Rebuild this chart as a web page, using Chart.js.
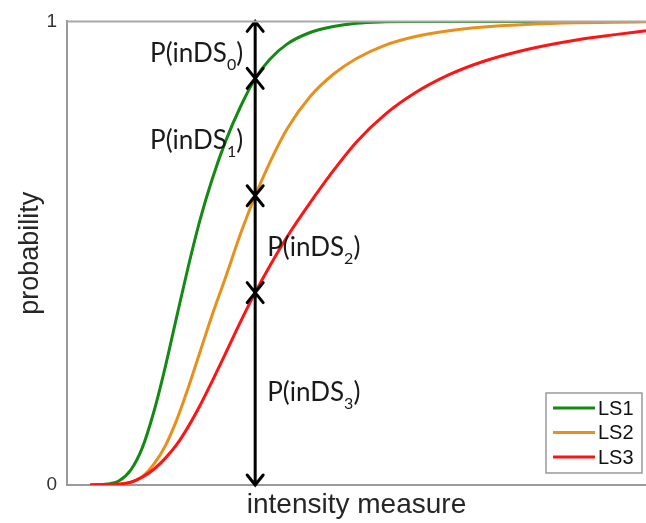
<!DOCTYPE html>
<html>
<head>
<meta charset="utf-8">
<script src="https://cdn.jsdelivr.net/npm/chart.js@4/dist/chart.umd.min.js"></script>
<style>
  html, body { margin: 0; padding: 0; background: #fff; }
  #wrap { width: 646px; height: 523px; }
</style>
</head>
<body>
<div id="wrap"><canvas id="fragilityChart" width="646" height="523"></canvas></div>
<script>
// intensity measure (arbitrary units, 0..100 across the plot)
const intensity = [4, 7, 9, 11, 13, 15, 17, 19, 21, 23, 25, 27.5, 30, 32.5, 35, 38, 42, 46, 50, 55, 60, 66, 72, 80, 88, 95, 100];
const ls1 = [0, 0.002, 0.009, 0.032, 0.080, 0.158, 0.256, 0.366, 0.474, 0.573, 0.657, 0.745, 0.817, 0.877, 0.918, 0.951, 0.976, 0.989, 0.996, 0.999, 1, 1, 1, 1, 1, 1, 1];
const ls2 = [0, 0, 0.001, 0.006, 0.018, 0.045, 0.085, 0.142, 0.212, 0.288, 0.364, 0.452, 0.543, 0.624, 0.695, 0.768, 0.838, 0.886, 0.920, 0.949, 0.967, 0.980, 0.988, 0.994, 0.997, 0.998, 0.999];
const ls3 = [0, 0.001, 0.002, 0.006, 0.017, 0.034, 0.058, 0.088, 0.127, 0.172, 0.222, 0.287, 0.353, 0.415, 0.472, 0.535, 0.609, 0.678, 0.740, 0.800, 0.845, 0.885, 0.914, 0.941, 0.960, 0.972, 0.980];
const seriesNames = ['LS1', 'LS2', 'LS3'];
const seriesColors = ['#138a13', '#e8901c', '#ff1414'];
const yTicks = [0, 1];

// where the damage-state arrow is drawn
const markIM = 32.5;
const stateLabels = ['0', '1', '2', '3'];

const toPts = vals => intensity.map((x, i) => ({ x: x, y: vals[i] }));

const arrowPlugin = {
  id: 'arrows',
  afterDatasetsDraw(chart) {
    const { ctx, scales } = chart;
    const xs = scales.x, ys = scales.y;
    const i = intensity.indexOf(markIM);
    const stops = [1, ls1[i], ls2[i], ls3[i], 0];
    const px = xs.getPixelForValue(markIM);

    ctx.save();
    ctx.strokeStyle = '#000';
    ctx.lineWidth = 3;
    ctx.lineCap = 'round';
    for (let s = 0; s < 4; s++) {
      const y1 = ys.getPixelForValue(stops[s]);
      const y2 = ys.getPixelForValue(stops[s + 1]);
      ctx.beginPath();
      ctx.moveTo(px, y1);
      ctx.lineTo(px, y2);
      // up head
      ctx.moveTo(px - 8, y1 + 10);
      ctx.lineTo(px, y1);
      ctx.lineTo(px + 8, y1 + 10);
      // down head
      ctx.moveTo(px - 8, y2 - 10);
      ctx.lineTo(px, y2);
      ctx.lineTo(px + 8, y2 - 10);
      ctx.stroke();

      // label P(inDS_k)
      const mid = (y1 + y2) / 2 + 12;
      const main = '26px Lato';
      const sub = '16px Lato';
      ctx.font = main;
      const w1 = ctx.measureText('P(inDS').width;
      const w3 = ctx.measureText(')').width;
      ctx.font = sub;
      const w2 = ctx.measureText(stateLabels[s]).width;
      const total = w1 + w2 + w3;
      const x0 = s < 2 ? px - 12 - total : px + 12;
      ctx.fillStyle = '#1a1a1a';
      ctx.textBaseline = 'alphabetic';
      ctx.textAlign = 'left';
      ctx.font = main;
      ctx.fillText('P(inDS', x0, mid);
      ctx.font = sub;
      ctx.fillText(stateLabels[s], x0 + w1, mid + 8);
      ctx.font = main;
      ctx.fillText(')', x0 + w1 + w2, mid);
    }
    ctx.restore();
  },
  afterDraw(chart) {
    const { ctx, chartArea } = chart;
    ctx.save();
    // top frame line
    ctx.strokeStyle = '#a8a8a8';
    ctx.lineWidth = 2;
    ctx.beginPath();
    ctx.moveTo(chartArea.left, chartArea.top);
    ctx.lineTo(chartArea.right, chartArea.top);
    ctx.stroke();

    // legend box
    const bw = 96, bh = 80;
    const bx = chartArea.right - 4 - bw;
    const by = chartArea.bottom - 12 - bh;
    ctx.fillStyle = '#fff';
    ctx.fillRect(bx, by, bw, bh);
    ctx.strokeStyle = '#999';
    ctx.lineWidth = 1.5;
    ctx.strokeRect(bx, by, bw, bh);
    ctx.font = '20px "Liberation Sans", Arial';
    ctx.textBaseline = 'middle';
    ctx.textAlign = 'left';
    seriesNames.forEach((name, k) => {
      const ry = by + 15 + k * 24.5;
      ctx.strokeStyle = seriesColors[k];
      ctx.lineWidth = 3;
      ctx.beginPath();
      ctx.moveTo(bx + 7, ry);
      ctx.lineTo(bx + 49, ry);
      ctx.stroke();
      ctx.fillStyle = '#111';
      ctx.fillText(name, bx + 52, ry + 1);
    });
    ctx.restore();
  }
};

const ctx = document.getElementById('fragilityChart').getContext('2d');
const chart = new Chart(ctx, {
  type: 'line',
  data: {
    datasets: [ls1, ls2, ls3].map((vals, k) => ({
      label: seriesNames[k],
      data: toPts(vals),
      borderColor: seriesColors[k],
      borderWidth: 3,
      pointRadius: 0,
      fill: false,
      cubicInterpolationMode: 'monotone',
      order: 3 - k
    }))
  },
  options: {
    responsive: false,
    animation: false,
    layout: { padding: { top: 20, right: 0, left: 0, bottom: 0 } },
    plugins: { legend: { display: false }, tooltip: { enabled: false } },
    scales: {
      x: {
        type: 'linear',
        min: 0,
        max: 100,
        grid: { display: false },
        border: { color: '#9a9a9a', width: 2 },
        ticks: { display: false },
        title: {
          display: true,
          text: 'intensity measure',
          color: '#262626',
          font: { family: '"Liberation Sans", Arial', size: 28 },
          padding: { top: 0, bottom: 1 }
        },
        afterFit: s => { s.height = 38; }
      },
      y: {
        min: 0,
        max: 1,
        grid: { display: false, drawTicks: false },
        border: { color: '#9a9a9a', width: 2 },
        afterBuildTicks: s => { s.ticks = yTicks.map(v => ({ value: v })); },
        ticks: {
          padding: 10,
          color: '#333',
          font: { family: '"Liberation Sans", Arial', size: 19 }
        },
        title: {
          display: true,
          text: 'probability',
          color: '#262626',
          font: { family: '"Liberation Sans", Arial', size: 27 },
          padding: { top: 14, bottom: 0 }
        },
        afterFit: s => { s.width = 67; }
      }
    }
  },
  plugins: [arrowPlugin]
});
</script>
</body>
</html>
